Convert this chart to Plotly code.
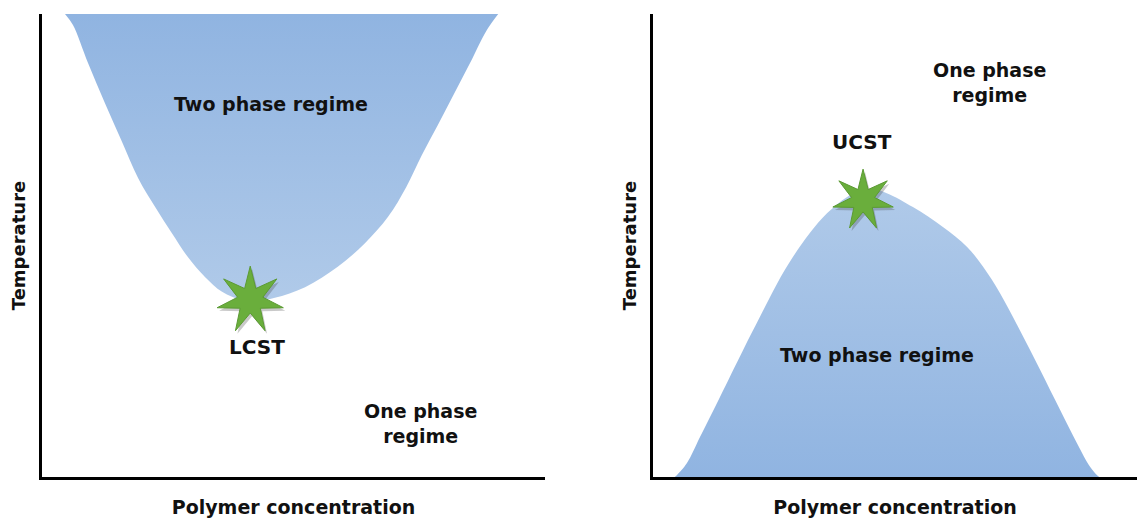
import numpy as np
import plotly.graph_objects as go

# LCST side: boundary of the two phase region (concentration %, temperature %)
lcst_conc = [4.57, 6.16, 9.15, 12.5, 15.9, 19.1, 22.5, 25.8, 29.0, 32.4, 35.8, 39.8,
             42.7, 46.3, 52.3, 58.8, 64.2, 68.8, 72.4, 75.5, 78.7, 81.9, 85.1, 88.3, 90.7]
lcst_temp = [100, 97.6, 89.4, 80.8, 72.4, 64.6, 58.3, 52.7, 47.5, 43.2, 40.0, 38.2,
             38.0, 38.7, 41.0, 45.4, 50.5, 56.2, 62.6, 69.5, 76.0, 82.7, 89.4, 96.3, 100]
lcst_point = (41.4, 38.2)

# UCST side
ucst_conc = [4.5, 4.96, 7.02, 9.71, 13.84, 18.6, 22.1, 25.6, 28.9, 32.4, 36.0, 40.1, 42.8,
             45.2, 48.3, 53.7, 59.9, 64.9, 68.2, 71.7, 75.8, 80.0, 84.1, 87.6, 90.3, 91.7, 92.2]
ucst_temp = [0, 0.43, 3.02, 8.64, 17.3, 27.4, 34.6, 41.7, 47.5, 52.7, 57.0, 60.5, 61.8,
             62.2, 61.3, 58.3, 54.0, 49.7, 45.4, 39.7, 31.7, 23.1, 14.5, 7.3, 2.2, 0.43, 0]
ucst_point = (43.4, 59.8)

DARK = "#90b4e1"
LIGHT = "#b0cae9"
STAR = "#6aae3c"
FONT = "DejaVu Sans"


def star_path(r_out, r_in, n=7, dx=0, dy=0):
    pts = []
    for i in range(2 * n):
        a = np.pi / 2 + i * np.pi / n
        r = r_out if i % 2 == 0 else r_in
        pts.append((r * np.cos(a) + dx, r * np.sin(a) + dy))
    return "M " + " L ".join(f"{x:.1f},{y:.1f}" for x, y in pts) + " Z"


fig = go.Figure()

fig.add_trace(go.Scatter(
    x=lcst_conc, y=lcst_temp, mode="lines", fill="toself",
    line=dict(width=0, shape="spline", smoothing=1.0),
    fillgradient=dict(type="vertical", start=38, stop=100,
                      colorscale=[[0, LIGHT], [1, DARK]]),
    hoverinfo="skip", showlegend=False, xaxis="x", yaxis="y"))

fig.add_trace(go.Scatter(
    x=ucst_conc, y=ucst_temp, mode="lines", fill="toself",
    line=dict(width=0, shape="spline", smoothing=1.0),
    fillgradient=dict(type="vertical", start=0, stop=62,
                      colorscale=[[0, DARK], [1, LIGHT]]),
    hoverinfo="skip", showlegend=False, xaxis="x2", yaxis="y2"))

shapes = []
for (px, py), xr, yr, r in [(lcst_point, "x", "y", 34), (ucst_point, "x2", "y2", 31)]:
    common = dict(type="path", xref=xr, yref=yr, xsizemode="pixel", ysizemode="pixel",
                  xanchor=px, yanchor=py)
    # soft shadow
    shapes.append(dict(common, path=star_path(r, r * 0.38, dx=2, dy=-3),
                       fillcolor="rgba(60,60,60,0.28)", line=dict(width=0)))
    shapes.append(dict(common, path=star_path(r, r * 0.38),
                       fillcolor=STAR, line=dict(color="#5b9a33", width=1)))

txt = dict(family=FONT, size=19, color="#111111")
big = dict(family=FONT, size=20, color="#111111")
annotations = [
    dict(x=45.5, y=80.6, xref="x", yref="y", text="<b>Two phase regime</b>", font=txt),
    dict(x=42.7, y=28.1, xref="x", yref="y", text="<b>LCST</b>", font=big),
    dict(x=75.2, y=11.6, xref="x", yref="y", text="<b>One phase<br>regime</b>", font=txt),
    dict(x=43.2, y=72.4, xref="x2", yref="y2", text="<b>UCST</b>", font=big),
    dict(x=69.6, y=85.1, xref="x2", yref="y2", text="<b>One phase<br>regime</b>", font=txt),
    dict(x=46.3, y=26.3, xref="x2", yref="y2", text="<b>Two phase regime</b>", font=txt),
]
for a in annotations:
    a["showarrow"] = False

ax = dict(showline=True, linecolor="black", linewidth=3, showgrid=False,
          zeroline=False, showticklabels=False, ticks="", range=[0, 100],
          fixedrange=True)
xtitle = dict(text="<b>Polymer concentration</b>", font=dict(family=FONT, size=19, color="#111111"),
              standoff=22)
ytitle = dict(text="<b>Temperature</b>", font=dict(family=FONT, size=18, color="#111111"),
              standoff=9)

fig.update_layout(
    width=1137, height=518,
    margin=dict(l=0, r=0, t=14, b=41),
    paper_bgcolor="white", plot_bgcolor="white",
    xaxis=dict(ax, domain=[42 / 1137, 545 / 1137], title=xtitle),
    yaxis=dict(ax, domain=[0, 1], title=ytitle),
    xaxis2=dict(ax, domain=[653 / 1137, 1.0], anchor="y2", title=xtitle),
    yaxis2=dict(ax, domain=[0, 1], anchor="x2", title=ytitle),
    shapes=shapes, annotations=annotations,
)

fig.write_html("out.html", config={"displayModeBar": False},
               post_script="document.body.style.margin='0px';")
